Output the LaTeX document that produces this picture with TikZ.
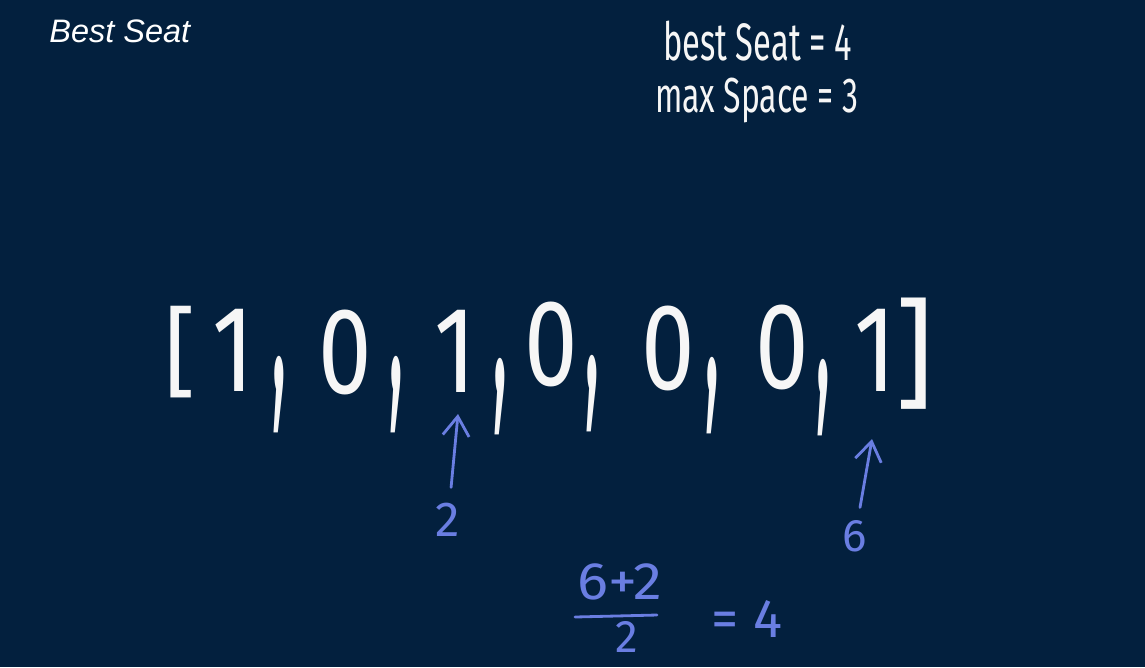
\documentclass[tikz,border=0pt]{standalone}
\usepackage{fontspec}
\usepackage{graphicx}
\usetikzlibrary{arrows.meta, positioning}
\setmainfont{Liberation Sans}
\newfontfamily\handfont{Fira Sans}
\definecolor{board}{RGB}{3,32,62}
\definecolor{ink}{RGB}{246,246,246}
\definecolor{pen}{RGB}{106,126,226}
\tikzset{%
   % chalk-like strokes: every handwritten glyph is a bare text node
   hand/.style={
      inner sep=0pt,
      outer sep=0pt,
      text=ink,
      font={\handfont\fontsize{#1}{#1}\selectfont}
   },
   hand/.default=70,
   bluehand/.style={
      hand=#1,
      text=pen
   },
   bluehand/.default=26,
   sepnode/.style={hand=62},
   ptr/.style={
      draw=pen,
      line width=1.6pt,
      line cap=round,
      -{Straight Barb[length=11pt,width=15pt,line width=1.6pt]}
   },
   bar/.style={
      draw=pen,
      line width=1.6pt,
      line cap=round
   },
}
\newcommand\longcomma{\scalebox{0.6}[2.4]{,}}
\newcommand\tall[1]{\scalebox{0.78}[1]{#1}}

\begin{document}
\begin{tikzpicture}[x=0.02cm, y=-0.02cm]
   \fill[board] (0,0) rectangle (1145,667);
   \useasboundingbox (0,0) rectangle (1145,667);
   \node[anchor=base west, text=white, font=\itshape\fontsize{18.5}{18.5}\selectfont, inner sep=0pt] (title) at (49,42) {Best Seat};
   \node[hand=30, anchor=base west] (best) at (663,60) {\scalebox{0.62}[1]{best Seat = 4}};
   \node[hand=28, anchor=base west] (space) at (655,112) {\scalebox{0.65}[1]{max Space = 3}};
   \node[hand=56] (L) at (180,352) {[};
   \node[hand] (N0) at (233,350) {\tall{1}};
   \node[sepnode] (C1) at (279,395) {\longcomma};
   \node[hand] (N1) at (345,352) {\tall{0}};
   \node[sepnode] (C2) at (396,395) {\longcomma};
   \node[hand] (N2) at (455,351) {\tall{1}};
   \node[sepnode] (C3) at (500,397) {\longcomma};
   \node[hand] (N3) at (551,344) {\tall{0}};
   \node[sepnode] (C4) at (592,394) {\longcomma};
   \node[hand] (N4) at (668,348) {\tall{0}};
   \node[sepnode] (C5) at (712,396) {\longcomma};
   \node[hand] (N5) at (782,347) {\tall{0}};
   \node[sepnode] (C6) at (823,398) {\longcomma};
   \node[hand] (N6) at (875,350) {\tall{1}};
   \node[hand=68] (R) at (915,354) {]};
   \node[bluehand=28] (two) at (448,520) {2};
   \node[bluehand=26] (six) at (855,536) {6};
   \coordinate (tip2) at (458,414);
   \coordinate (tip6) at (872,439);
   \draw[ptr, shorten <=0.32cm] (two) -- (tip2);
   \draw[ptr, shorten <=0.26cm] (six) -- (tip6);
   \node[bluehand=30] (num) at (620,582) {\scalebox{1.1}[1]{6+2}};
   \draw[bar] (575,617) -- (657,615);
   \node[bluehand=26] (den) at (627,637) {2};
   \node[bluehand=31] (res) at (747,619) {= 4};
\end{tikzpicture}
\end{document}
